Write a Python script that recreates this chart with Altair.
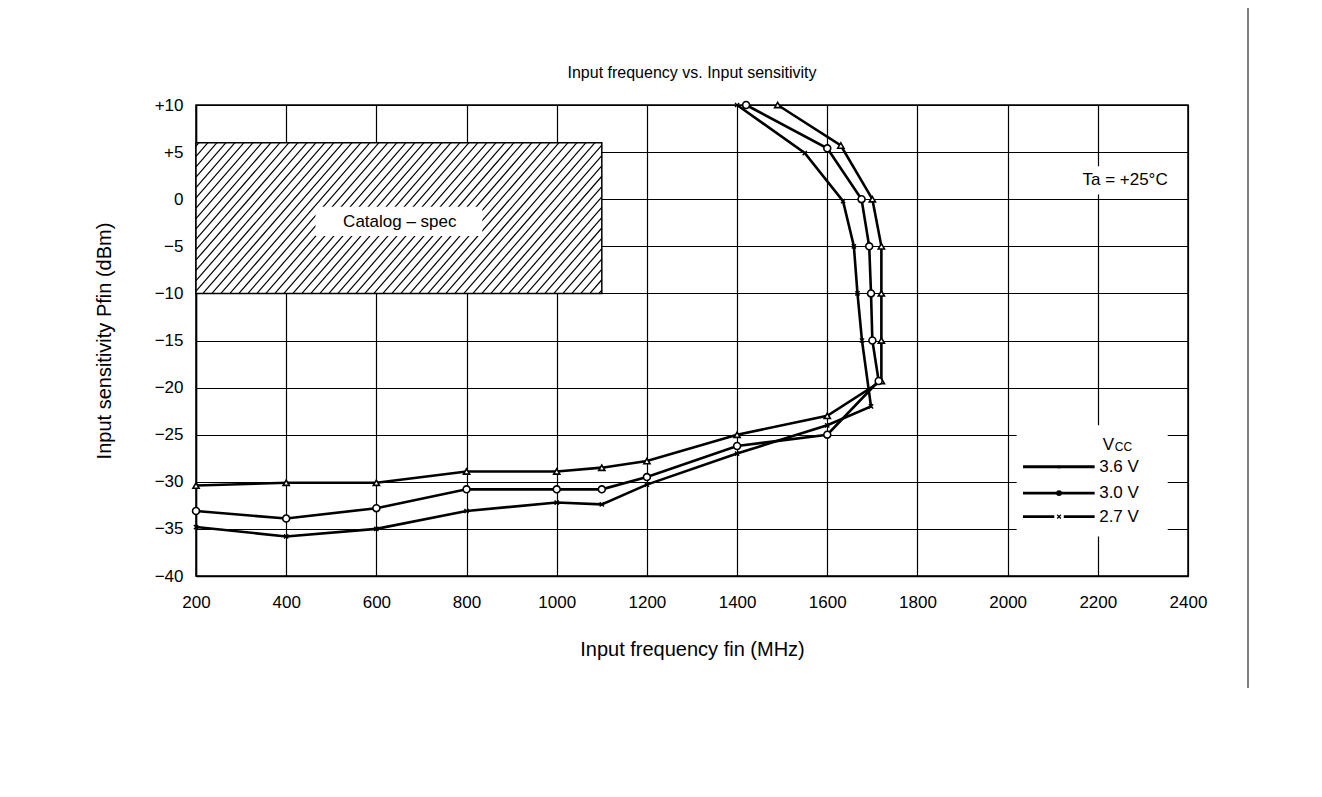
import altair as alt
import pandas as pd
import numpy as np

# ---------------- data ----------------
f36 = [200, 400, 600, 800, 1000, 1100, 1200, 1400, 1600, 1720, 1720, 1720, 1720, 1700, 1630, 1490]
p36 = [-30.4, -30.1, -30.1, -28.9, -28.9, -28.5, -27.8, -25.0, -23.0, -19.3, -15.0, -10.0, -5.0, 0.0, 5.7, 10.0]
f30 = [200, 400, 600, 800, 1000, 1100, 1200, 1400, 1600, 1714, 1700, 1697, 1693, 1676, 1600, 1420]
p30 = [-33.1, -33.9, -32.8, -30.8, -30.8, -30.8, -29.5, -26.2, -25.0, -19.3, -15.0, -10.0, -5.0, 0.0, 5.4, 10.0]
f27 = [200, 400, 600, 800, 1000, 1100, 1200, 1400, 1600, 1697, 1677, 1667, 1659, 1635, 1550, 1400]
p27 = [-34.8, -35.8, -35.0, -33.1, -32.2, -32.4, -30.3, -27.0, -24.0, -22.0, -15.0, -10.0, -5.0, -0.2, 4.9, 10.0]
series_names = ["3.6 V", "3.0 V", "2.7 V"]

spec_f = [200, 1100]
spec_p = [-10, 6]
spec_label = "Catalog \u2013 spec"
ta_label = "Ta = +25\u00b0C"
title_text = "Input frequency vs. Input sensitivity"

x_ticks = list(range(200, 2401, 200))
y_ticks = list(range(-40, 11, 5))

FONT = "Liberation Sans"
W, H = 992, 471
XMIN, XMAX, YMIN, YMAX = 200, 2400, -40, 10

# ---------------- tables ----------------
rows = []
for name, fs, ps in zip(series_names, [f36, f30, f27], [p36, p30, p27]):
    for i, (f, p) in enumerate(zip(fs, ps)):
        rows.append({"series": name, "idx": i, "f": f, "p": p})
curves = pd.DataFrame(rows)

# hatch lines for the catalog-spec region (geometry derived from region bounds)
sx = W / (XMAX - XMIN)
sy = H / (YMAX - YMIN)
rx0, rx1 = (spec_f[0] - XMIN) * sx, (spec_f[1] - XMIN) * sx
ry0, ry1 = (spec_p[0] - YMIN) * sy, (spec_p[1] - YMIN) * sy
slope, spacing = 1.15, 9.0
hh = ry1 - ry0
hrows = []
c = rx0 - hh / slope + 3
while c < rx1:
    xa, ya = c, ry0
    if xa < rx0:
        xa, ya = rx0, ry0 + slope * (rx0 - c)
    xb, yb = c + hh / slope, ry1
    if xb > rx1:
        xb, yb = rx1, ry0 + slope * (rx1 - c)
    hrows.append({"f": XMIN + xa / sx, "p": YMIN + ya / sy,
                  "f2": XMIN + xb / sx, "p2": YMIN + yb / sy})
    c += spacing
hatch = pd.DataFrame(hrows)

base = alt.Chart(curves)
xs = alt.Scale(domain=[XMIN, XMAX], nice=False, zero=False)
ys = alt.Scale(domain=[YMIN, YMAX], nice=False, zero=False)

X = alt.X("f:Q", scale=xs, title="Input frequency fin (MHz)",
          axis=alt.Axis(values=x_ticks, format="d", labelFontSize=17, titleFontSize=20,
                        labelPadding=18, titlePadding=29, labelFlush=False))
Y = alt.Y("p:Q", scale=ys, title="Input sensitivity Pfin (dBm)",
          axis=alt.Axis(values=y_ticks, labelFontSize=17, titleFontSize=20,
                        labelPadding=13, titlePadding=40, labelFlush=False,
                        labelExpr="datum.value > 0 ? '+' + datum.value : (datum.value < 0 ? '\u2212' + abs(datum.value) : '0')"))

spec_df = pd.DataFrame({"f": [spec_f[0]], "f2": [spec_f[1]], "p": [spec_p[0]], "p2": [spec_p[1]]})
spec_rect = alt.Chart(spec_df).mark_rect(fill="white", stroke="black", strokeWidth=1.5).encode(
    x=X, x2="f2:Q", y=Y, y2="p2:Q")

hatch_lines = alt.Chart(hatch).mark_rule(color="black", strokeWidth=1.2).encode(
    x=alt.X("f:Q", scale=xs), x2="f2:Q", y=alt.Y("p:Q", scale=ys), y2="p2:Q")

spec_txt_bg = alt.Chart(pd.DataFrame({"f": [465], "f2": [835], "p": [-3.9], "p2": [-0.8]})).mark_rect(
    fill="white").encode(x=alt.X("f:Q", scale=xs), x2="f2:Q", y=alt.Y("p:Q", scale=ys), y2="p2:Q")
spec_txt = alt.Chart(pd.DataFrame({"f": [652], "p": [-2.4], "t": [spec_label]})).mark_text(
    font=FONT, fontSize=17, color="black").encode(
    x=alt.X("f:Q", scale=xs), y=alt.Y("p:Q", scale=ys), text="t:N")

# white boxes behind the annotation and the legend
boxes = alt.Chart(pd.DataFrame({"f": [2020, 2020], "f2": [2392, 2355],
                                "p": [0.5, -35.8], "p2": [3.5, -24.0]})).mark_rect(fill="white").encode(
    x=alt.X("f:Q", scale=xs), x2="f2:Q", y=alt.Y("p:Q", scale=ys), y2="p2:Q")

ta_txt = alt.Chart(pd.DataFrame({"f": [2355], "p": [2.0], "t": [ta_label]})).mark_text(
    font=FONT, fontSize=17, color="black", align="right").encode(
    x=alt.X("f:Q", scale=xs), y=alt.Y("p:Q", scale=ys), text="t:N")

lines = base.mark_line(color="black", strokeWidth=2.6).encode(
    x=alt.X("f:Q", scale=xs), y=alt.Y("p:Q", scale=ys), detail="series:N", order="idx:Q")

m36 = alt.Chart(curves[curves.series == "3.6 V"]).mark_point(
    shape="triangle-up", size=38, filled=True, fill="white", stroke="black", strokeWidth=1.6, opacity=1).encode(
    x=alt.X("f:Q", scale=xs), y=alt.Y("p:Q", scale=ys))
m30 = alt.Chart(curves[curves.series == "3.0 V"]).mark_point(
    shape="circle", size=48, filled=True, fill="white", stroke="black", strokeWidth=1.6, opacity=1).encode(
    x=alt.X("f:Q", scale=xs), y=alt.Y("p:Q", scale=ys))
m27 = alt.Chart(curves[curves.series == "2.7 V"]).mark_point(
    shape="M-1,-1L1,1M-1,1L1,-1", size=18, stroke="black", strokeWidth=1.4, opacity=1).encode(
    x=alt.X("f:Q", scale=xs), y=alt.Y("p:Q", scale=ys))

# custom legend
leg_y = [-28.4, -31.2, -33.7]
leg = pd.DataFrame({"series": series_names, "p": leg_y, "f": [2034] * 3, "f2": [2193] * 3,
                    "fm": [2114] * 3, "fl": [2203] * 3})
leg_lines = alt.Chart(leg).mark_rule(color="black", strokeWidth=2.8).encode(
    x=alt.X("f:Q", scale=xs), x2="f2:Q", y=alt.Y("p:Q", scale=ys))
leg_m36 = alt.Chart(leg[leg.series == "3.6 V"]).mark_point(
    shape="triangle-up", size=14, filled=True, color="black", opacity=1).encode(
    x=alt.X("fm:Q", scale=xs), y=alt.Y("p:Q", scale=ys))
leg_m30 = alt.Chart(leg[leg.series == "3.0 V"]).mark_point(
    shape="circle", size=34, filled=True, color="black", opacity=1).encode(
    x=alt.X("fm:Q", scale=xs), y=alt.Y("p:Q", scale=ys))
leg_m27 = alt.Chart(leg[leg.series == "2.7 V"]).mark_square(
    size=90, color="white", opacity=1).encode(
    x=alt.X("fm:Q", scale=xs), y=alt.Y("p:Q", scale=ys))
leg_m27x = alt.Chart(leg[leg.series == "2.7 V"]).mark_point(
    shape="M-1,-1L1,1M-1,1L1,-1", size=14, stroke="black", strokeWidth=1.2, opacity=1).encode(
    x=alt.X("fm:Q", scale=xs), y=alt.Y("p:Q", scale=ys))
leg_txt = alt.Chart(leg).mark_text(font=FONT, fontSize=17, align="left", color="black").encode(
    x=alt.X("fl:Q", scale=xs), y=alt.Y("p:Q", scale=ys), text="series:N")
vcc = pd.DataFrame({"f": [2211], "p": [-26.1], "t": ["V"]})
vcc_v = alt.Chart(vcc).mark_text(font=FONT, fontSize=17, align="left", color="black").encode(
    x=alt.X("f:Q", scale=xs), y=alt.Y("p:Q", scale=ys), text="t:N")
vcc_cc = alt.Chart(pd.DataFrame({"f": [2211], "p": [-26.1], "t": ["CC"]})).mark_text(
    font=FONT, fontSize=12, align="left", color="black", dx=12, dy=2).encode(
    x=alt.X("f:Q", scale=xs), y=alt.Y("p:Q", scale=ys), text="t:N")

# chart title drawn as text above the plot area
title_mark = alt.Chart(pd.DataFrame({"t": [title_text]})).mark_text(
    font=FONT, fontSize=16, color="black", align="center", baseline="middle").encode(
    x=alt.value(W / 2), y=alt.value(-32), text="t:N")

# page frame line at the right
frame = alt.Chart(pd.DataFrame({"a": [0]})).mark_rule(color="black", strokeWidth=1).encode(
    x=alt.value(1052), y=alt.value(-97), y2=alt.value(583))

chart = alt.layer(
    spec_rect,
    hatch_lines, spec_txt_bg, spec_txt, boxes, ta_txt,
    lines, m36, m30, m27,
    leg_lines, leg_m36, leg_m30, leg_m27, leg_m27x, leg_txt, vcc_v, vcc_cc,
    title_mark, frame,
).properties(
    width=W, height=H,
    autosize=alt.AutoSizeParams(type="none"),
    padding={"left": 188, "top": 97, "right": 110, "bottom": 150},
).configure_view(stroke="black", strokeWidth=1.5).configure_axis(
    grid=True, gridColor="black", gridWidth=1.2, gridOpacity=1,
    domainColor="black", domainWidth=1.5, ticks=False,
    labelFont=FONT, titleFont=FONT, labelColor="black", titleColor="black",
    titleFontWeight="normal",
)

chart.save("out.html", embed_options={"renderer": "svg", "actions": False})
